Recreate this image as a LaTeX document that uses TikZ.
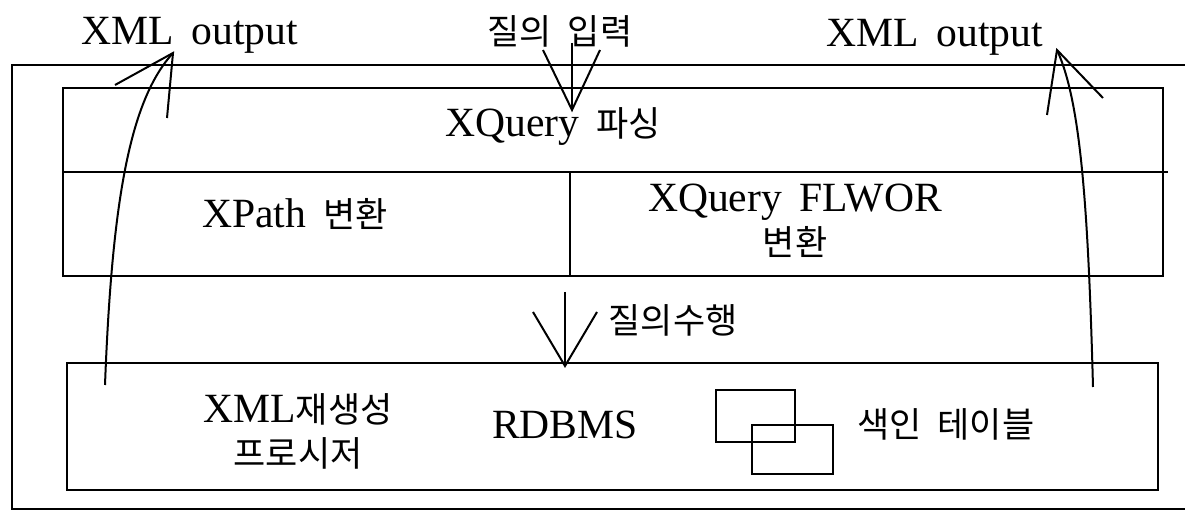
\documentclass[tikz,border=0pt]{standalone}
\usepackage{fontspec}
\setmainfont{Liberation Serif}
\newfontfamily\krfont{Noto Sans CJK KR}
\newcommand\kor[1]{{\krfont\fontsize{17.5}{22}\selectfont #1}}
\begin{document}
\begin{tikzpicture}[x=0.5pt,y=-0.5pt,
  ln/.style={line width=1pt, line join=miter},
  box/.style={draw, line width=1pt, inner sep=0pt, outer sep=0pt},
  txt/.style={inner sep=0pt, font=\fontsize{20.8}{24}\selectfont, align=center}]
\useasboundingbox (0,0) rectangle (1185,512);
% outer frame (open to the right)
\coordinate (ftr) at (1185,65);
\coordinate (ftl) at (12,65);
\coordinate (fbl) at (12,509);
\coordinate (fbr) at (1185,509);
\draw[ln] (ftr) -- (ftl) -- (fbl) -- (fbr);
% top box
\node[box, minimum width=550pt, minimum height=94pt] (top) at (613,182) {};
\coordinate (divL) at (63,172);
\coordinate (divR) at (1168,172);
\draw[ln] (divL) -- (divR);
\coordinate (vdT) at (570,172);
\coordinate (vdB) at (570,276);
\draw[ln] (vdT) -- (vdB);
% bottom box
\node[box, minimum width=545.5pt, minimum height=63.5pt] (bot) at (612.5,426.5) {};
% small overlapping rectangles
\node[box, minimum width=39.5pt, minimum height=26pt] (r1) at (755.5,416) {};
\node[box, minimum width=40.5pt, minimum height=24.5pt] (r2) at (792.5,449.5) {};
% texts
\node[txt] (xmlL) at (190,35) {XML\, output};
\node[txt] (qin) at (560,31) {\kor{질의\ \ 입력}};
\node[txt] (xmlR) at (935,37) {XML\, output};
\node[txt] (parse) at (553,127) {XQuery\, \kor{파싱}};
\node[txt] (xpath) at (295,214) {XPath\, \kor{변환}};
\node[txt] (flwor) at (795,221) {XQuery\, FLWOR\\[-2pt]\kor{변환}};
\node[txt] (exec) at (673,320) {\kor{질의수행}};
\node[txt] (regen) at (298,431) {XML\kor{재생성}\\[-2pt]\kor{프로시저}};
\node[txt] (rdbms) at (565,425) {RDBMS};
\node[txt] (idx) at (946,424) {\kor{색인\ \ 테이블}};
% query input arrow
\coordinate (qtop) at (572,43);
\coordinate (qtip) at (572,110);
\coordinate (qL) at (543,50);
\coordinate (qR) at (600,50);
\draw[ln] (qtop) -- (qtip);
\draw[ln] (qL) -- (qtip) -- (qR);
% query execution arrow
\coordinate (etop) at (565,292);
\coordinate (etip) at (565,366);
\coordinate (eL) at (533,312);
\coordinate (eR) at (597,312);
\draw[ln] (etop) -- (etip);
\draw[ln] (eL) -- (etip) -- (eR);
% left output arrow
\coordinate (ls) at (105,385);
\coordinate (la) at (173,53);
\coordinate (lL) at (115,85);
\coordinate (lR) at (167,118);
\draw[ln] (ls) .. controls (112,200) and (130,100) .. (la);
\draw[ln] (lL) -- (la) -- (lR);
% right output arrow
\coordinate (rs) at (1093,387);
\coordinate (ra) at (1057,50);
\coordinate (rL) at (1047,115);
\coordinate (rR) at (1103,98);
\draw[ln] (rs) .. controls (1088,200) and (1080,100) .. (ra);
\draw[ln] (rL) -- (ra) -- (rR);
\end{tikzpicture}
\end{document}
